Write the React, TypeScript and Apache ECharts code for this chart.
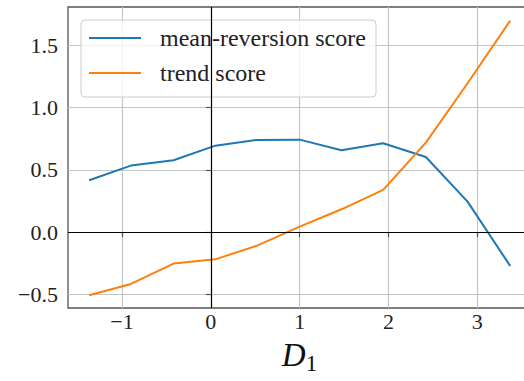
import React, { useEffect, useRef } from "react";
import * as echarts from "echarts";

const xValues = [-1.37, -0.9, -0.42, 0.05, 0.52, 1.0, 1.47, 1.94, 2.42, 2.89, 3.37];
const meanReversion = [0.417, 0.534, 0.577, 0.694, 0.74, 0.742, 0.657, 0.713, 0.603, 0.245, -0.27];
const trendScore = [-0.505, -0.414, -0.251, -0.217, -0.107, 0.045, 0.184, 0.339, 0.718, 1.194, 1.696];
const xTicks = [-1, 0, 1, 2, 3];
const yTicks = [-0.5, 0, 0.5, 1, 1.5];
const seriesNames = ["mean-reversion score", "trend score"];

const FONT = "Liberation Serif";
const minus = (s: string) => s.replace("-", "\u2212");

export default function App() {
  const ref = useRef<HTMLDivElement>(null);
  useEffect(() => {
    if (!ref.current) return;
    const chart = echarts.init(ref.current, undefined, { renderer: "svg" });
    const spine = "#555555";
    const gridColor = "#c4c4c4";
    chart.setOption({
      animation: false,
      backgroundColor: "#ffffff",
      textStyle: { fontFamily: FONT },
      grid: {
        left: 68,
        top: 7,
        right: -7,
        bottom: 73,
        outerBoundsMode: "none",
        containLabel: false,
        show: true,
        borderColor: spine,
        borderWidth: 1.3,
        backgroundColor: "transparent",
      },
      xAxis: {
        type: "value",
        min: -1.608,
        max: 3.604,
        axisLine: { show: false },
        axisTick: {
          show: true,
          customValues: xTicks,
          length: 5,
          lineStyle: { color: spine, width: 1.2 },
        },
        axisLabel: {
          customValues: xTicks,
          margin: 2,
          fontFamily: FONT,
          fontSize: 22,
          color: "#222",
          formatter: (v: number) => minus(String(Math.round(v))),
        },
        splitLine: { show: true, lineStyle: { color: gridColor, width: 1.1 } },
        name: "{d|D}{s|1}",
        nameLocation: "middle",
        nameGap: 30,
        nameTextStyle: {
          fontFamily: FONT,
          rich: {
            d: { fontFamily: FONT, fontStyle: "italic", fontSize: 33, color: "#111", verticalAlign: "bottom" },
            s: { fontFamily: FONT, fontSize: 23, color: "#111", verticalAlign: "bottom", padding: [0, 0, -4, 0] },
          },
        },
      },
      yAxis: {
        type: "value",
        min: -0.607,
        max: 1.805,
        axisLine: { show: false },
        axisTick: {
          show: true,
          customValues: yTicks,
          length: 5,
          lineStyle: { color: spine, width: 1.2 },
        },
        axisLabel: {
          customValues: yTicks,
          margin: 10,
          fontFamily: FONT,
          fontSize: 22,
          color: "#222",
          formatter: (v: number) => minus(v.toFixed(1)),
        },
        splitLine: { show: true, lineStyle: { color: gridColor, width: 1.1 } },
      },
      legend: {
        data: seriesNames,
        orient: "vertical",
        left: 89,
        top: 26,
        padding: 0,
        itemGap: 11,
        itemWidth: 52,
        itemHeight: 2,
        icon: "rect",
        textStyle: {
          fontFamily: FONT,
          fontSize: 24,
          color: "#222",
          lineHeight: 24,
          padding: [0, 0, 0, 14],
        },
      },
      graphic: [
        {
          type: "rect",
          z: 3,
          shape: { x: 81, y: 20, width: 295, height: 77, r: 4 },
          style: { fill: "rgba(255,255,255,0.8)", stroke: "#cccccc", lineWidth: 1 },
        },
      ],
      series: [
        {
          name: seriesNames[0],
          type: "line",
          data: xValues.map((x, i) => [x, meanReversion[i]]),
          showSymbol: false,
          symbol: "none",
          lineStyle: { color: "#1f77b4", width: 2 },
          itemStyle: { color: "#1f77b4" },
          z: 3,
          markLine: {
            silent: true,
            symbol: ["none", "none"],
            label: { show: false },
            lineStyle: { color: "#000", width: 1.2, type: "solid" },
            data: [{ xAxis: 0 }, { yAxis: 0 }],
          },
        },
        {
          name: seriesNames[1],
          type: "line",
          data: xValues.map((x, i) => [x, trendScore[i]]),
          showSymbol: false,
          symbol: "none",
          lineStyle: { color: "#ff7f0e", width: 2 },
          itemStyle: { color: "#ff7f0e" },
          z: 3,
        },
      ],
    });
    return () => chart.dispose();
  }, []);
  return (
    <div
      ref={ref}
      style={{ position: "fixed", left: 0, top: 0, width: 524, height: 381 }}
    />
  );
}
